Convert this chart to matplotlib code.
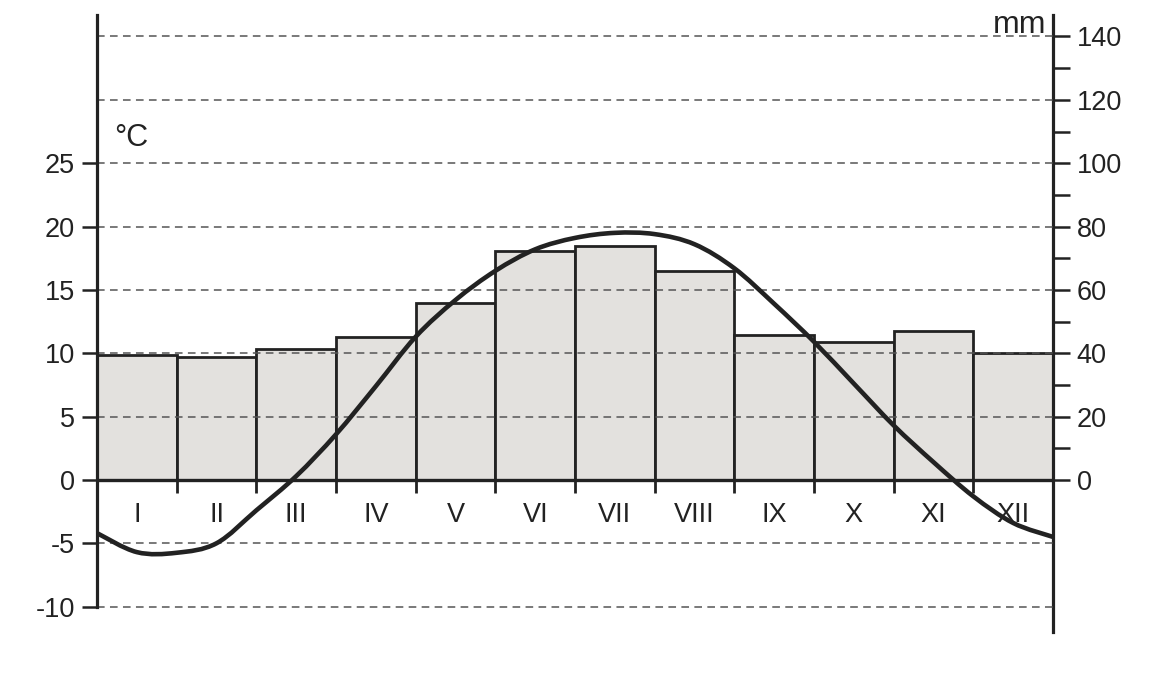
import matplotlib
matplotlib.use("Agg")
import matplotlib.pyplot as plt
from matplotlib.path import Path
from matplotlib.patches import PathPatch

plt.rcParams["font.family"] = ["Liberation Sans", "DejaVu Sans"]
plt.rcParams["axes.unicode_minus"] = False

months = ["I", "II", "III", "IV", "V", "VI", "VII", "VIII", "IX", "X", "XI", "XII"]
precip_mm = [39.5, 38.7, 41.4, 45.0, 55.7, 72.2, 73.9, 65.9, 45.7, 43.4, 47.1, 40.1]

# temperature curve at every half month (0 = start of Jan)
curve_t = [0, 0.5, 1, 1.5, 2, 2.5, 3, 3.5, 4, 4.5, 5, 5.5, 6,
           6.5, 7, 7.5, 8, 8.5, 9, 9.5, 10, 10.5, 11, 11.5, 12]
curve_temp = [-4.2, -5.7, -5.75, -5.0, -2.4, 0.3, 3.6, 7.4, 11.3, 14.2, 16.5, 18.2, 19.1,
              19.5, 19.4, 18.6, 16.7, 13.9, 10.9, 7.6, 4.3, 1.4, -1.3, -3.4, -4.5]

temp_ticks = [-10, -5, 0, 5, 10, 15, 20, 25]
grid_levels = [-10, -5, 5, 10, 15, 20, 25, 30, 35]
mm_ticks = [0, 20, 40, 60, 80, 100, 120, 140]
mm_minor = [10, 30, 50, 70, 90, 110, 130]

ink = "#222222"
t_lo, t_hi = -12, 36.7

fig = plt.figure(figsize=(11.69, 6.73), dpi=100)
ax = fig.add_axes([0.083, 0.061, 0.8178, 0.9168])
ax2 = ax.twinx()
ax2.set_zorder(ax.get_zorder() - 1)
ax.patch.set_visible(False)

# precipitation bars (mm axis, drawn underneath)
x = [i + 0.5 for i in range(12)]
ax2.bar(x, precip_mm, width=1.0, color="#e3e1de", edgecolor=ink, linewidth=2.0)
ax2.set_ylim(t_lo * 4, t_hi * 4)
ax2.set_yticks(mm_ticks)
ax2.set_yticks(mm_minor, minor=True)
ax2.tick_params(axis="y", which="both", direction="out", length=12, width=1.8,
                colors=ink, labelsize=19.5, pad=5)
for s in ["top", "bottom", "left"]:
    ax2.spines[s].set_visible(False)
ax2.spines["right"].set_linewidth(2.3)
ax2.spines["right"].set_color(ink)

# temperature axis on top
ax.set_xlim(0, 12)
ax.set_ylim(t_lo, t_hi)
ax.set_xticks([])
ax.set_yticks(temp_ticks)
ax.tick_params(axis="y", direction="out", length=11, width=1.8, colors=ink,
               labelsize=19.5, pad=5)
for s in ["top", "bottom", "right"]:
    ax.spines[s].set_visible(False)
ax.spines["left"].set_bounds(-10, t_hi)
ax.spines["left"].set_linewidth(2.3)
ax.spines["left"].set_color(ink)

for g in grid_levels:
    ax.axhline(g, color="#555555", linewidth=1.1, linestyle=(0, (5, 3.5)), zorder=1)
ax.axhline(0, color=ink, linewidth=2.4, zorder=3)
ax.vlines(range(1, 12), -1.0, 0, colors=ink, linewidth=2.0, zorder=3)

for xi, m in zip(x, months):
    ax.text(xi, -2.8, m, ha="center", va="center", fontsize=19.5, color=ink)

# smooth temperature curve (Catmull-Rom via Bezier segments)
pts = list(zip(curve_t, curve_temp))
verts = [pts[0]]
codes = [Path.MOVETO]
for i in range(len(pts) - 1):
    p0 = pts[max(i - 1, 0)]
    p1 = pts[i]
    p2 = pts[i + 1]
    p3 = pts[min(i + 2, len(pts) - 1)]
    c1 = (p1[0] + (p2[0] - p0[0]) / 6, p1[1] + (p2[1] - p0[1]) / 6)
    c2 = (p2[0] - (p3[0] - p1[0]) / 6, p2[1] - (p3[1] - p1[1]) / 6)
    verts += [c1, c2, p2]
    codes += [Path.CURVE4] * 3
ax.add_patch(PathPatch(Path(verts, codes), facecolor="none", edgecolor=ink,
                       linewidth=3.3, zorder=4, capstyle="round"))

ax.text(0.22, 27.0, "°C", fontsize=22, color=ink, ha="left", va="center")
ax.text(11.92, 35.9, "mm", fontsize=23, color=ink, ha="right", va="center")

fig.savefig("out.png", dpi=100)
